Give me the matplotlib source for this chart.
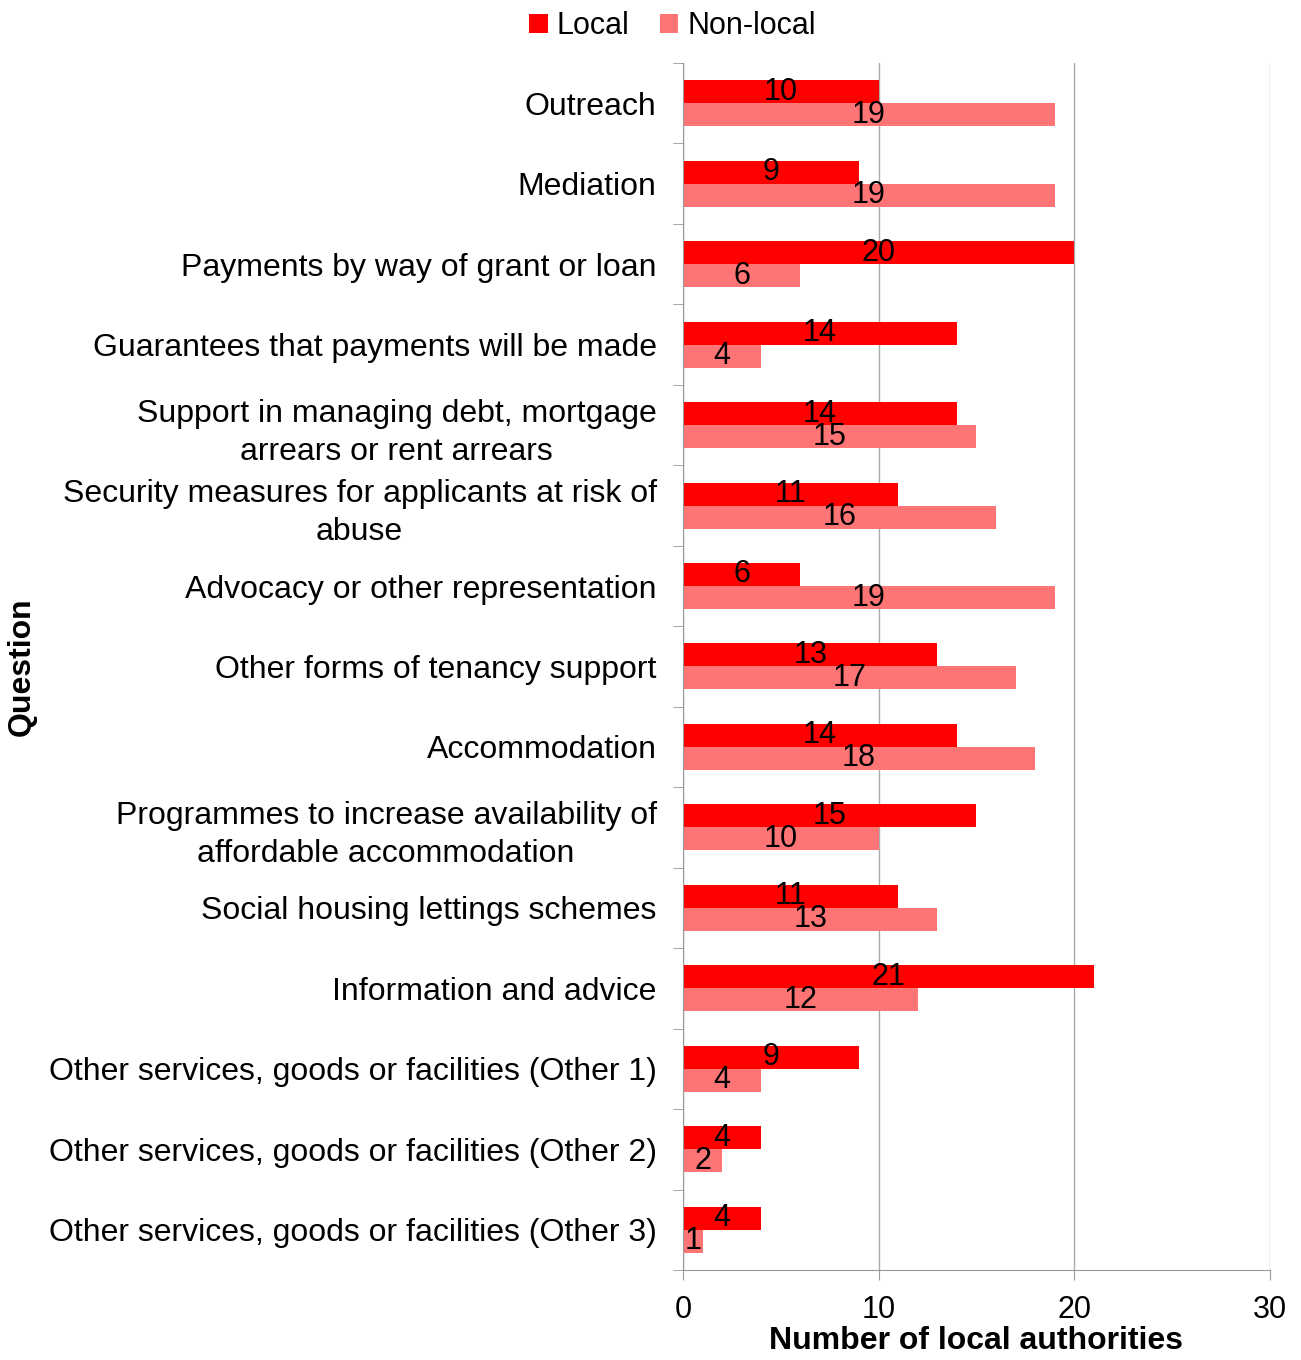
import numpy as np
import matplotlib
matplotlib.use('Agg')
import matplotlib.pyplot as plt
from matplotlib.ticker import FixedLocator

plt.rcParams['font.family'] = ['Liberation Sans', 'DejaVu Sans']

questions = [
    'Outreach',
    'Mediation',
    'Payments by way of grant or loan',
    'Guarantees that payments will be made',
    'Support in managing debt, mortgage\narrears or rent arrears',
    'Security measures for applicants at risk of\nabuse',
    'Advocacy or other representation',
    'Other forms of tenancy support',
    'Accommodation',
    'Programmes to increase availability of\naffordable accommodation',
    'Social housing lettings schemes',
    'Information and advice',
    'Other services, goods or facilities (Other 1)',
    'Other services, goods or facilities (Other 2)',
    'Other services, goods or facilities (Other 3)',
]
local = [10, 9, 20, 14, 14, 11, 6, 13, 14, 15, 11, 21, 9, 4, 4]
non_local = [19, 19, 6, 4, 15, 16, 19, 17, 18, 10, 13, 12, 4, 2, 1]

c_local = '#FF0000'
c_nonlocal = '#FF7575'

fig = plt.figure(figsize=(13.01, 13.6), dpi=100)
ax = fig.add_axes([0.525, 0.0662, 0.451, 0.8875])

y = np.arange(len(questions))
h = 0.286
b1 = ax.barh(y - h / 2, local, height=h, color=c_local, label='Local', zorder=2)
b2 = ax.barh(y + h / 2, non_local, height=h, color=c_nonlocal, label='Non-local', zorder=2)

for bars, vals in ((b1, local), (b2, non_local)):
    for bar, v in zip(bars, vals):
        ax.text(v / 2, bar.get_y() + bar.get_height() / 2, str(v),
                ha='center', va='center', fontsize=22, zorder=3)

ax.set_xlim(0, 30)
ax.set_ylim(len(questions) - 0.5, -0.5)
ax.set_xticks([0, 10, 20, 30])
ax.tick_params(axis='x', labelsize=22, length=7, color='#999999', pad=11)
ax.set_yticks(y)
ax.set_yticklabels(questions, fontsize=23, multialignment='center', linespacing=1.35)
ax.tick_params(axis='y', which='major', length=0, pad=19)
ax.yaxis.set_minor_locator(FixedLocator(np.arange(-0.5, len(questions), 1.0)))
ax.tick_params(axis='y', which='minor', length=7, color='#999999')

ax.grid(axis='x', color='#AAAAAA', linewidth=1, zorder=0)
for s in ('top', 'right'):
    ax.spines[s].set_visible(False)
for s in ('left', 'bottom'):
    ax.spines[s].set_color('#999999')

ax.set_xlabel('Number of local authorities', fontsize=23, fontweight='bold', labelpad=1)
fig.text(0.017, 0.51, 'Question', rotation=90, fontsize=23, fontweight='bold',
         ha='center', va='center')

fig.legend(handles=[b1, b2], loc='upper center', bbox_to_anchor=(0.517, 1.012), ncol=2,
           frameon=False, fontsize=22, handlelength=0.6, handleheight=0.6,
           handletextpad=0.3, columnspacing=1.0)

fig.savefig('out.png', dpi=100)
